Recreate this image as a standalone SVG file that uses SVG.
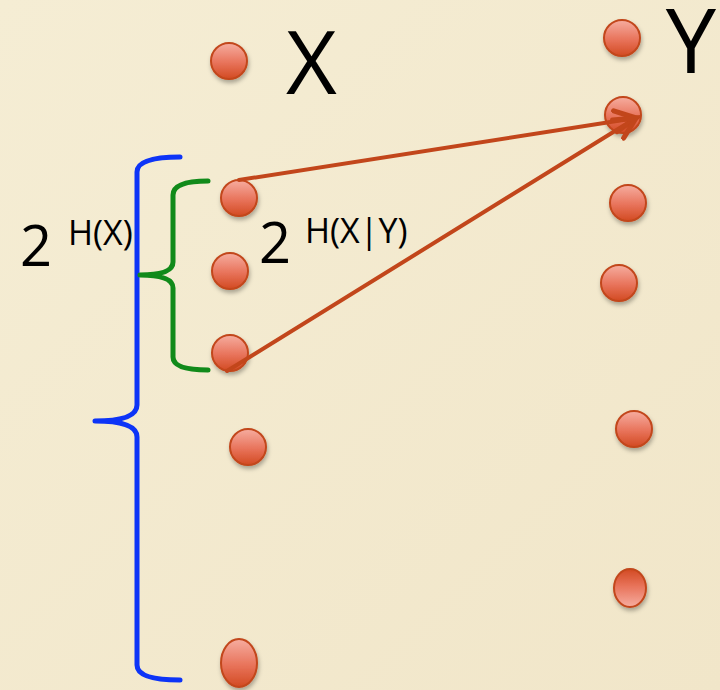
<svg xmlns="http://www.w3.org/2000/svg" width="720" height="690" viewBox="0 0 720 690">
<defs>
<linearGradient id="ball" x1="0" y1="0" x2="0" y2="1">
<stop offset="0" stop-color="#F6ADA0"/>
<stop offset="0.55" stop-color="#E8735A"/>
<stop offset="1" stop-color="#D24A22"/>
</linearGradient>
<linearGradient id="ballrev" x1="0" y1="1" x2="0" y2="0">
<stop offset="0" stop-color="#F6ADA0"/>
<stop offset="0.55" stop-color="#E8735A"/>
<stop offset="1" stop-color="#D24A22"/>
</linearGradient>
<filter id="sh" x="-50%" y="-50%" width="200%" height="200%">
<feDropShadow dx="1" dy="3" stdDeviation="2" flood-color="#000" flood-opacity="0.3"/>
</filter>
<marker id="arr" viewBox="0 0 12 12" refX="10" refY="6" markerWidth="7" markerHeight="7" orient="auto" markerUnits="strokeWidth">
<path d="M1,1.5 L10,6 L1,10.5" fill="none" stroke="#C2461B" stroke-width="2.2" stroke-linecap="round" stroke-linejoin="miter"/>
</marker>
<linearGradient id="bg" x1="0" y1="0" x2="1" y2="1">
<stop offset="0" stop-color="#F5EDD4"/>
<stop offset="1" stop-color="#F1E6C9"/>
</linearGradient>
</defs>
<style>
.node{stroke:#C2461B;stroke-width:2;filter:url(#sh)}
.lbl{font-family:"Open Sans","Liberation Sans",sans-serif;fill:#000}
.conn{stroke:#C2461B;stroke-width:4;fill:none;stroke-linecap:round}
.brace{fill:none;stroke-width:5;stroke-linecap:round;stroke-linejoin:round}
</style>
<rect x="0" y="0" width="720" height="690" fill="url(#bg)"/>

<g id="labels">
<text class="lbl" x="286" y="94" font-size="88">X</text>
<text class="lbl" x="716" y="73" font-size="90" text-anchor="end">Y</text>
<text class="lbl" x="20" y="266" font-size="56">2</text>
<text class="lbl" x="68" y="245" font-size="34">H(X)</text>
<text class="lbl" x="259" y="263" font-size="56">2</text>
<text class="lbl" x="305" y="243" font-size="34">H(X|Y)</text>
</g>

<g id="braces">
<path id="brace-blue" class="brace" stroke="#0D34F7" d="M180,157 Q137,157 137,172 L137,405 Q137,421 95,421 Q137,421 137,437 L137,665 Q137,680 180,680"/>
<path id="brace-green" class="brace" stroke="#118A1A" d="M208,181 Q173,181 173,195 L173,262 Q173,275 140,275 Q173,275 173,288 L173,357 Q173,370 208,370"/>
</g>

<g id="x1"><circle class="node" cx="229" cy="61" r="18" fill="url(#ball)"/></g>
<g id="x2"><circle class="node" cx="239" cy="198" r="18" fill="url(#ball)"/></g>
<g id="x3"><circle class="node" cx="230" cy="271" r="18" fill="url(#ball)"/></g>
<g id="x4"><circle class="node" cx="230" cy="353" r="18" fill="url(#ball)"/></g>
<g id="x5"><circle class="node" cx="248" cy="447" r="18" fill="url(#ball)"/></g>
<g id="x6"><ellipse class="node" cx="239" cy="663" rx="18" ry="24" fill="url(#ball)"/></g>

<g id="y1"><circle class="node" cx="622" cy="38" r="18" fill="url(#ball)"/></g>
<g id="y2"><circle class="node" cx="623" cy="115" r="18" fill="url(#ball)"/></g>
<g id="y3"><circle class="node" cx="628" cy="203" r="18" fill="url(#ball)"/></g>
<g id="y4"><circle class="node" cx="619" cy="283" r="18" fill="url(#ball)"/></g>
<g id="y5"><circle class="node" cx="634" cy="429" r="18" fill="url(#ball)"/></g>
<g id="y6"><ellipse class="node" cx="630" cy="588" rx="16" ry="19" fill="url(#ballrev)"/></g>

<g id="connectors">
<line class="conn" x1="239" y1="180" x2="636" y2="118" marker-end="url(#arr)"/>
<line class="conn" x1="227" y1="371" x2="636" y2="118" marker-end="url(#arr)"/>
</g>
</svg>
